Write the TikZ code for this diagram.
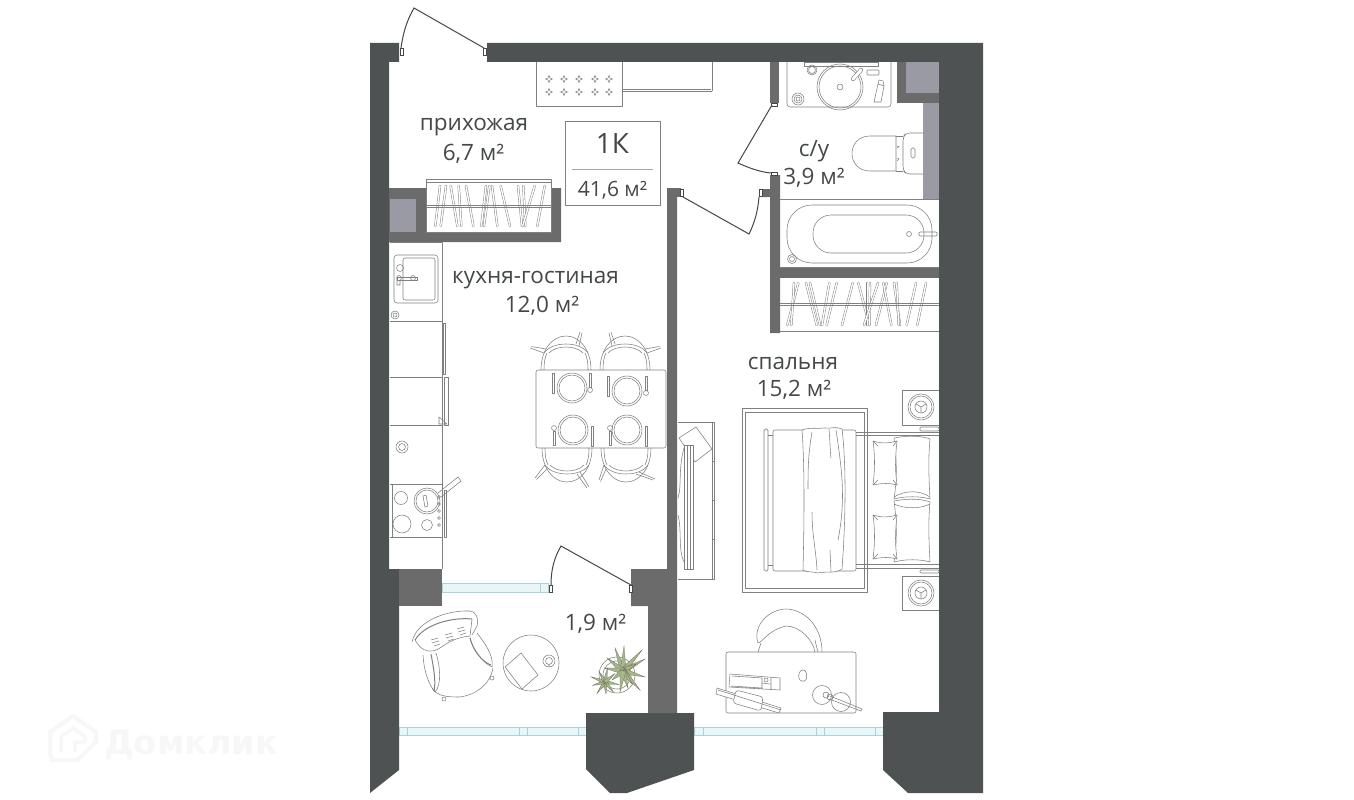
\documentclass[tikz,border=0pt]{standalone}
\usepackage{fontspec}
\usetikzlibrary{calc}
\setmainfont{Open Sans}
\newfontfamily\logofont{DejaVu Sans}
\definecolor{outerwall}{HTML}{4E5252}
\definecolor{innerwall}{HTML}{6B6B6B}
\definecolor{shaft}{HTML}{9A9AA4}
\definecolor{ink}{HTML}{444848}
\definecolor{furn}{HTML}{808080}
\definecolor{glassfill}{HTML}{EAF5F6}
\definecolor{glassline}{HTML}{A9D3DB}
\definecolor{plant}{HTML}{A8B68C}
\definecolor{wm}{HTML}{F7F7F7}
\tikzset{
 outer/.style={fill=outerwall,draw=none},
 inner/.style={fill=innerwall,draw=none},
 shaftbox/.style={fill=shaft,draw=none},
 fur/.style={draw=furn,line width=.55pt,line join=round},
 furb/.style={draw=furn,line width=1pt,line join=round},
 hangerline/.style={draw=furn,double=white,double distance=1.4pt,line width=.45pt,line cap=round},
 leaf/.style={draw=ink,line width=1pt},
 frameb/.style={draw=ink,fill=white,line width=.7pt},
 glass/.style={fill=glassfill,draw=glassline,line width=.9pt},
 label/.style={text=ink,font=\fontsize{22.5}{25}\selectfont,inner sep=0pt,align=center},
 spike/.style={fill=plant,draw=plant!60!black,line width=.25pt},
}
\begin{document}
\begin{tikzpicture}[x=1pt,y=-1pt]
\useasboundingbox (0,0) rectangle (1354,800);
\fill[white] (0,0) rectangle (1354,800);
% watermark
\draw[wm,line width=4pt,line join=round] (50,753) -- (50,732) -- (73,716) -- (96,732) -- (96,742) -- (78,760) -- (52,760) -- cycle;
\draw[wm,line width=3.5pt,line join=round] (61,752) -- (61,737) -- (73,728) -- (85,737) -- (85,742) -- (75,742) -- (75,752);
\node[inner sep=0pt,text=wm,font=\logofont\bfseries\fontsize{33.5}{36}\selectfont] (logo) at (191,745) {Домклик};
% windows
\draw[glass] (442,583.5) rectangle (548,592);
\draw[glass] (540,583.5) -- (540,592);
\draw[glass] (399,727) rectangle (586,735);
\foreach \x in {407,519,527,578} \draw[glass] (\x,727) -- (\x,735);
\draw[glass] (694,727) rectangle (884,735);
\foreach \x in {703,816,824,875} \draw[glass] (\x,727) -- (\x,735);
% outer walls
\fill[outer] (370,43) -- (399,43) -- (399,62) -- (389,62) -- (389,569) -- (399,569) -- (399,770) -- (370,793) -- cycle;
\fill[outer] (487,43) -- (983,43) -- (983,793) -- (908,793) -- (883,770) -- (883,712) -- (939,712) -- (939,62) -- (487,62) -- cycle;
\fill[outer] (586,713) -- (694,713) -- (694,770) -- (627,793) -- (610,793) -- (586,769) -- cycle;
% inner walls
\fill[inner] (399,569) rectangle (442,606);
\fill[inner] (667,188) -- (677,188) -- (677,713) -- (648,713) -- (648,606) -- (631,606) -- (631,569) -- (667,569) -- cycle;
\fill[inner] (677,188) rectangle (681,197);
\fill[inner] (389,188) -- (426,188) -- (426,232) -- (551,232) -- (551,188) -- (561,188) -- (561,242) -- (389,242) -- cycle;
\fill[shaftbox] (390,199) rectangle (416,232);
\fill[inner] (770,62) rectangle (779,103);
\fill[inner] (770,175) -- (780,175) -- (780,333) -- (770,333) -- (770,197) -- (762,197) -- (762,189) -- (770,189) -- cycle;
\fill[inner] (780,268) rectangle (939,278);
\fill[inner] (897,62) -- (939,62) -- (939,103) -- (897,103) -- cycle;
\fill[shaftbox] (906,62) rectangle (939,93);
\fill[shaftbox] (923,103) rectangle (939,199);
% door frames
\foreach \x/\y in {400/48,483/48,549/585,629/585,759/189,680/189} \draw[frameb] (\x,\y) rectangle +(3.5,7);
\foreach \x/\y in {771/103,771/172} \draw[frameb] (\x,\y) rectangle +(6,3);
% door leaves
\coordinate (d1a) at (484,48); \coordinate (d1b) at (414,8); \coordinate (d1c) at (401,48);
\draw[leaf] (d1a) -- (d1b) .. controls (407,20) and (403,33) .. (d1c);
\coordinate (d2a) at (631,585); \coordinate (d2b) at (561,546); \coordinate (d2c) at (551,585);
\draw[leaf] (d2a) -- (d2b) .. controls (554,558) and (551,570) .. (d2c);
\coordinate (d3a) at (772,105); \coordinate (d3b) at (738,163); \coordinate (d3c) at (771,173);
\draw[leaf] (d3a) -- (d3b) .. controls (749,168) and (760,172) .. (d3c);
\coordinate (d4a) at (683,197); \coordinate (d4b) at (749,234); \coordinate (d4c) at (759,197);
\draw[leaf] (d4a) -- (d4b) .. controls (755,222) and (758,210) .. (d4c);
% hall: mat and bench
\draw[fur] (536,62) -- (536,106) -- (622,106) -- (622,62);
\foreach \x in {549,564,579,595,609} \foreach \y in {79,92} {
 \draw[fur] (\x,\y-3.5) -- (\x+1,\y-1) -- (\x+3.5,\y) -- (\x+1,\y+1) -- (\x,\y+3.5) -- (\x-1,\y+1) -- (\x-3.5,\y) -- (\x-1,\y-1) -- cycle;}
\draw[fur] (622,89) -- (711,89) (622,91) -- (712,91) (712,62) -- (712,91);
% hall closet
\draw[fur] (426,179) rectangle (551,232);
\draw[fur] (426,182) -- (551,182);
\foreach \a/\b in {240/226,258/242,272/292,296/304,318/340,378/364,388/372,396/412,422/450,474/486,490/496,524/488,554/532}
 \draw[hangerline] ({360+\a/3},186) -- ({360+\b/3},226);
\draw[fur] (426,205.5) -- (551,205.5) (426,207) -- (551,207);
% sink counter
\draw[fur,rounded corners=3pt] (787,62) -- (787,107) -- (891,107) -- (891,62);
\draw[fur] (804,62) rectangle (878,66);
\draw[fur] (840,87) circle[radius=23pt] (840,87) circle[radius=21pt] (840,87) circle[radius=3pt];
\draw[fur] (812,70) circle[radius=5pt] (812,70) circle[radius=3.5pt];
\draw[fur] (798,99) circle[radius=6pt] (798,99) circle[radius=4pt] (798,99) circle[radius=2pt];
\draw[fur,double=white,double distance=3pt,line cap=round] (853,79) -- (861,70);
\draw[fur,rounded corners=1pt] (867,70) rectangle (879,75);
\draw[fur] (874,102) -- (881,102) -- (884,86) -- (878,84) -- cycle (878,84) -- (879,80) -- (883,81) -- (884,86);
% toilet
\draw[fur] (896,136) -- (870,136) .. controls (846,136) and (846,171) .. (870,171) -- (896,171) -- cycle;
\draw[fur] (896,136) -- (903,136) (896,171) -- (903,171);
\draw[fur,rounded corners=4pt] (923,133) -- (906,133) -- (903,137) -- (903,170) -- (906,174) -- (923,174);
\draw[fur,rounded corners=1.5pt] (911,148) rectangle (915,158);
\draw[fur] (897,146) -- (899,146.5) -- (897,148) (897,158) -- (899,159) -- (897,161);
% bath
\draw[fur] (780,199) -- (939,199) (780,267.5) -- (939,267.5);
\draw[fur,rounded corners=25pt] (787,205) rectangle (932,263);
\draw[fur,rounded corners=18pt] (813,215) rectangle (924,253);
\draw[fur] (909,234) circle[radius=2.5pt];
\draw[fur,rounded corners=1pt] (919,232) rectangle (937,236);
\draw[fur] (792,259) circle[radius=4.5pt] (792,259) circle[radius=2.5pt];
% bedroom closet
\foreach \a/\b in {385/352,372/364,408/440,420/450,478/456,500/470,548/516,565/598,592/592,600/598,624/582,650/618,640/664,672/690,680/686,738/710,768/742}
 \draw[hangerline] ({670+\a/3},283) -- ({670+\b/3},325);
\draw[fur] (780,303) -- (939,303) (780,305) -- (939,305) (780,331) -- (939,331);
% kitchen counter
\draw[fur] (390,242) -- (442,242) -- (442,569);
\foreach \y in {321,377,425,484,537} \draw[fur] (390,\y) -- (442,\y);
\draw[fur,rounded corners=3pt] (394,255) rectangle (438,303);
\draw[fur,rounded corners=2pt] (403,258) rectangle (435,300);
\draw[fur] (400,268) circle[radius=3.5pt];
\draw[fur] (397,277) rectangle (417,280);
\draw[fur] (399,278) circle[radius=2.5pt] (413,278) circle[radius=2.5pt] (397,278) -- (397,285) -- (400,285) -- (400,280);
\draw[fur] (395,315) circle[radius=4pt] (395,315) circle[radius=2pt];
\draw[fur] (443,323) rectangle (445.5,374);
\draw[fur] (444,377) rectangle (448,425);
\draw[fur] (439,417) -- (447,424) -- (439,424) -- cycle;
\draw[fur] (402,447) circle[radius=6pt] (402,447) circle[radius=3.5pt];
\draw[fur] (392,484) -- (392,537);
\draw[fur] (401,498) circle[radius=6.5pt] (402,524) circle[radius=9pt] (427,525) circle[radius=5.5pt];
\draw[fur,fill=white] (427,501) circle[radius=13pt] (427,501) circle[radius=11pt];
\draw[fur] (423,496) -- (426,495) -- (428,506) -- (425,507) -- cycle;
\draw[fur] (438,493) -- (458,477) -- (461,481) -- (441,497);
\foreach \y in {497,504,511,518,525} \draw[fur] (439,\y) circle[radius=1.4pt];
\draw[fur] (444,490) rectangle (446,537);
% chairs
\foreach \x/\yy/\mx/\my/\ax/\ay/\bx/\by in {566/370/1/1/-36/-22/14/-38, 625/370/-1/1/-36/-22/14/-38, 567/448/1/-1/-32/-30/20/-40, 626/448/1/-1/-27/-32/27/-32} {
 \begin{scope}[shift={(\x,\yy)},xscale=\mx,yscale=\my]
 \draw[fur] (-25,0) .. controls (-25,-20) and (-14,-34) .. (0,-34) .. controls (14,-34) and (25,-20) .. (25,0);
 \draw[fur] (-22,-17) .. controls (-14,-29) and (14,-29) .. (22,-17);
 \draw[fur] (-17,-17) .. controls (-10,-25) and (10,-25) .. (17,-17);
 \draw[fur] (-22,0) .. controls (-22,-8) and (-21,-13) .. (-19,-17) (22,0) .. controls (22,-8) and (21,-13) .. (19,-17);
 \draw[fur] (\ax,\ay) -- (-22,-17) (\ax+1.5,\ay-1.5) -- (-20,-21);
 \draw[fur] (\bx,\by) -- (10,-26) (\bx+2,\by+1) -- (13,-24);
 \end{scope}}
% table
\draw[fur,rounded corners=2pt] (536,370) rectangle (666,448);
\foreach \x/\y in {572/388,627/391,573/430,627/430} {
 \draw[fur] (\x,\y) circle[radius=15pt] (\x,\y) circle[radius=13pt];}
\foreach \x/\y in {553/373,608/376,592/426,646/426} {
 \draw[fur] (\x-1,\y) rectangle +(2,20);}
\foreach \x/\y in {590/373,646/376} {
 \draw[fur] (\x-1,\y) rectangle +(2,14);
 \draw[fur] (\x,\y+17) circle[radius=2.5pt];}
\foreach \x/\y in {554/428,610/428} {
 \draw[fur] (\x,\y) circle[radius=2.5pt];
 \draw[fur] (\x-1,\y+3) rectangle +(2,14);}
% balcony armchair
\draw[fur] (412,642) .. controls (416,622) and (445,610) .. (470,611) .. controls (477,612) and (479,620) .. (477,626) -- (472,635);
\draw[furb] (415,640) .. controls (424,625) and (450,617) .. (472,619);
\draw[fur] (472,619) -- (470,636) .. controls (458,637) and (448,642) .. (440,648) .. controls (432,653) and (422,653) .. (415,640);
\draw[fur] (423,655) .. controls (424,672) and (429,685) .. (435,692) .. controls (442,685) and (440,665) .. (436,653);
\draw[furb] (431,654) .. controls (434,670) and (436,682) .. (434,691);
\draw[fur] (470,638) .. controls (473,650) and (482,662) .. (492,667) .. controls (494,655) and (484,642) .. (477,633);
\draw[furb] (470,638) .. controls (473,650) and (482,662) .. (491,665);
\draw[fur] (432,688) .. controls (437,697) and (450,697) .. (460,697) .. controls (475,695) and (490,685) .. (493,668);
\draw[fur] (444,699) circle[radius=2pt] (492,678) circle[radius=2pt];
\foreach \x/\y in {431/640,445/635,457/629} {
 \draw[fur] (\x,\y) -- +(7,-2) (\x+1,\y+3) -- +(7,-2) (\x+3,\y+6) -- +(6,-2);}
% balcony table
\draw[fur] (531,663) circle[radius=28pt];
\draw[fur] (521,653) -- (538,675) -- (522,689) -- (505,667) -- cycle;
\draw[fur] (549,661) circle[radius=6pt] (549,661) circle[radius=3.5pt] (549,664) -- (549,667);
% plant
\draw[fur] (617,675) circle[radius=18pt] (617,675) circle[radius=14pt];
\coordinate (pc) at (623,671);
\foreach \tx/\ty in {615/648,624/646,642/650,645/659,636/664,645/677,640/690,632/684,628/688,607/658,604/668,612/680,620/692}
 \fill[spike] ($(pc)!3pt!90:(\tx,\ty)$) -- (\tx,\ty) -- ($(pc)!3pt!-90:(\tx,\ty)$) -- cycle;
\foreach \a/\r in {10/14,50/13,85/12,125/14,165/13,200/15,240/12,280/14,320/13}
 \fill[spike] ($(605,682)+(\a+90:2)$) -- ($(605,682)+(\a:\r)$) -- ($(605,682)+(\a-90:2)$) -- cycle;
% rug
\draw[furb] (742,408) rectangle (867,592);
\draw[fur] (745,412) rectangle (864,588);
% bed
\draw[fill=white,draw=furn,line width=.7pt,rounded corners=1.5pt] (764,429) rectangle (768,571);
\draw[fur] (768,435) -- (773,435) (768,565) -- (773,565);
\draw[fur,fill=white,rounded corners=2pt] (773,430) rectangle (856,571);
\draw[furb] (856,432) -- (939,432) (856,435) -- (939,435) (856,564) -- (939,564) (856,568) -- (939,568);
\draw[fur,fill=white] (802,430) .. controls (810,427) and (818,429) .. (825,428) .. controls (830,429) and (836,426) .. (842,429) .. controls (847,470) and (845,530) .. (842,569) .. controls (835,574) and (825,571) .. (818,573) .. controls (812,571) and (808,573) .. (803,570) .. controls (804,530) and (805,470) .. (802,430);
\draw[fur] (812,432) .. controls (808,455) and (808,470) .. (808,489) (829,429) .. controls (830,440) and (830,450) .. (831,458) (836,430) .. controls (842,470) and (846,500) .. (838,540) (812,512) .. controls (812,535) and (816,550) .. (817,570) (830,550) -- (831,572);
% pillows
\foreach \y in {0,63} {
 \draw[fur,fill=white] (894,438+\y) .. controls (910,435+\y) and (922,436+\y) .. (930,439+\y) .. controls (928,460+\y) and (929,480+\y) .. (930,499+\y) .. controls (920,496+\y) and (905,496+\y) .. (894,499+\y) .. controls (897,480+\y) and (897,460+\y) .. (894,438+\y) -- cycle;
}
\draw[fur] (894,497) .. controls (905,490) and (920,490) .. (930,497) (894,504) .. controls (905,509) and (920,509) .. (930,504);
\foreach \y in {0,74} {
 \draw[fur,fill=white] (873,441+\y) .. controls (882,444+\y) and (890,443+\y) .. (897,441+\y) .. controls (895,460+\y) and (895,470+\y) .. (897,485+\y) .. controls (890,483+\y) and (882,483+\y) .. (873,485+\y) .. controls (875,470+\y) and (875,455+\y) .. (873,441+\y) -- cycle;
 \draw[fur] (873,441+\y) -- (878,446+\y) (897,441+\y) -- (893,446+\y) (873,485+\y) -- (878,480+\y) (897,485+\y) -- (893,480+\y);
}
% nightstands
\foreach \y/\ya/\yb in {407/390/425,593/576/610} {
 \draw[fur] (939,\ya) -- (902,\ya) -- (902,\yb) -- (939,\yb);
 \draw[fur] (921,\y) circle[radius=13pt] (921,\y) circle[radius=11pt] (921,\y) circle[radius=6pt];
 \draw[fur] (921,\y) -- (921,\y+6) (921,\y) -- (916,\y-3) (921,\y) -- (926,\y-3);
}
\draw[fur,rounded corners=1pt] (920,427) rectangle (939,431);
\draw[fur,rounded corners=1pt] (920,570) rectangle (939,573);
% tv unit
\draw[fur] (678,422) -- (714,422) -- (714,579) -- (678,579);
\draw[fur] (712,422) -- (712,579);
\foreach \y in {461,500,539} \draw[fur] (712,\y) -- (714,\y);
\draw[fur,fill=white] (679,438) -- (696,427) -- (712,449) -- (695,462) -- cycle;
\draw[fur,fill=white] (684,445) -- (693,445) -- (693,569) -- (684,569) -- cycle;
\draw[fur] (687,445) -- (687,569) (690,445) -- (690,569);
\draw[fur] (684,448) .. controls (678,470) and (682,485) .. (678,498) (678,515) .. controls (682,530) and (678,550) .. (684,562);
% desk chair
\draw[fur] (758,643) .. controls (752,625) and (770,609) .. (786,609) .. controls (803,609) and (822,625) .. (822,652);
\draw[fur] (758,643) .. controls (762,643) and (768,630) .. (786,626) .. controls (800,626) and (813,640) .. (815,652);
\draw[fur] (761,643) -- (758,652) (815,640) .. controls (816,645) and (817,648) .. (818,652);
% desk
\draw[fur,rounded corners=2pt] (726,652) rectangle (856,713);
\draw[fur] (730,674) -- (780,678) -- (780,690) -- (729,687) -- cycle (732,676) -- (762,678) -- (762,688) -- (731,686);
\draw[fur] (762,683) -- (770,684) (771,678) -- (771,689);
\draw[fur] (766,680) circle[radius=2pt];
\draw[fur,fill=white] (717,688) -- (781,708) -- (779,713) -- (716,694) -- cycle;
\draw[fur,fill=white,rounded corners=3pt] (736,690) -- (763,697) -- (761,711) -- (733,703) -- cycle;
\draw[fur] (718,690) -- (781,710);
\draw[fur,rounded corners=3pt] (800,670) -- (806,670) -- (807,680) -- (802,682) -- (798,678) -- cycle;
\draw[fur] (822,695) circle[radius=9.5pt] (841,702) circle[radius=9.5pt];
\draw[fur] (826,695) circle[radius=3pt] (830,697) circle[radius=3pt];
\draw[fur] (830,696) -- (862,709) -- (861,711) -- (829,699);
% labels
\draw[fur] (565,121) rectangle (660,205);
\draw[draw=furn!70,line width=.6pt] (572,169) -- (653,169);
\node[label,font=\fontsize{28}{32}\selectfont] (ltype) at (612.5,144) {1К};
\node[label,font=\fontsize{21}{24}\selectfont] (larea) at (612.5,190) {41,6 м²};
\node[label] (lhall) at (474,127) {прихожая};
\node[label] (lhalla) at (473.5,154) {6,7 м²};
\node[label] (lkit) at (535.5,280) {кухня-гостиная};
\node[label] (lkita) at (542,306) {12,0 м²};
\node[label] (lbed) at (793,363) {спальня};
\node[label] (lbeda) at (794,390) {15,2 м²};
\node[label] (lbath) at (814,151) {с/у};
\node[label] (lbatha) at (814,178) {3,9 м²};
\node[label] (lbalc) at (595.5,624) {1,9 м²};
\end{tikzpicture}
\end{document}
